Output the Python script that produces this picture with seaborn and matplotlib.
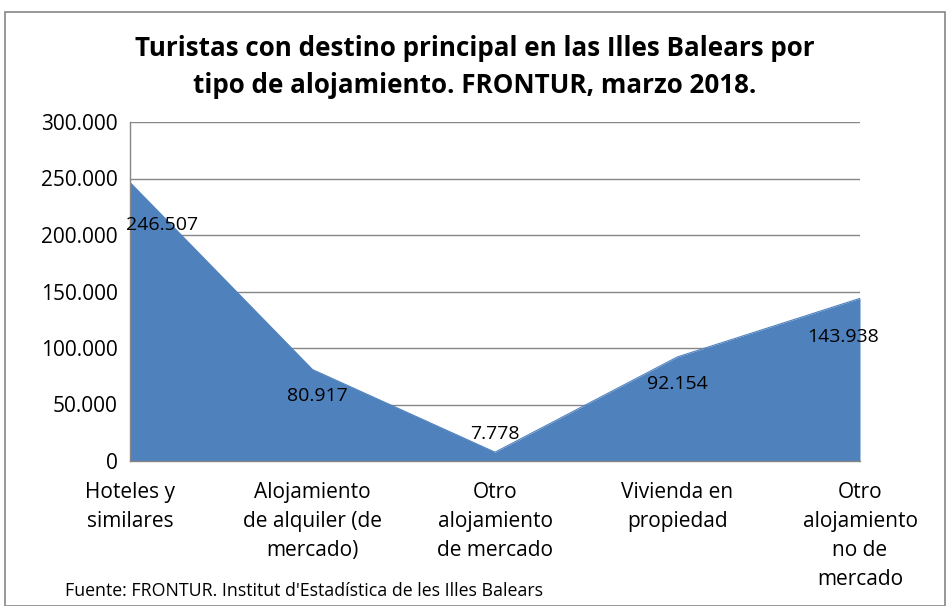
import matplotlib
matplotlib.use("Agg")
import matplotlib.pyplot as plt
import seaborn as sns
import pandas as pd
from matplotlib.patches import Rectangle

categories = ["Hoteles y\nsimilares", "Alojamiento\nde alquiler (de\nmercado)",
              "Otro\nalojamiento\nde mercado", "Vivienda en\npropiedad",
              "Otro\nalojamiento\nno de\nmercado"]
values = [246507, 80917, 7778, 92154, 143938]
value_labels = ["246.507", "80.917", "7.778", "92.154", "143.938"]
yticks = [0, 50000, 100000, 150000, 200000, 250000, 300000]
ytick_labels = ["0", "50.000", "100.000", "150.000", "200.000", "250.000", "300.000"]

sns.set_style("white")
plt.rcParams['font.family'] = ['Open Sans', 'DejaVu Sans']
plt.rcParams['text.color'] = 'black'
plt.rcParams['xtick.color'] = 'black'
plt.rcParams['ytick.color'] = 'black'

df = pd.DataFrame({"x": range(len(values)), "y": values})

fig = plt.figure(figsize=(9.46, 6.06), dpi=100)
ax = fig.add_axes([130/946, 1-461/606, 730/946, 339/606])

color = "#4F81BD"
ax.fill_between(df["x"], 0, df["y"], color=color, linewidth=0, zorder=2)
sns.lineplot(data=df, x="x", y="y", ax=ax, color=color, linewidth=0.8, zorder=3)

ax.set_xlim(0, len(values) - 1)
ax.set_ylim(0, 300000)
ax.set_yticks(yticks)
ax.set_yticklabels(ytick_labels, fontsize=15)
ax.set_xticks(range(len(values)))
ax.set_xticklabels(categories, fontsize=15, linespacing=1.5, va="top")
ax.set_xlabel("")
ax.set_ylabel("")
ax.grid(axis="y", color="#868686", linewidth=1, zorder=1)
ax.set_axisbelow(True)
for s in ["top", "right"]:
    ax.spines[s].set_visible(False)
for s in ["left", "bottom"]:
    ax.spines[s].set_color("#868686")
    ax.spines[s].set_linewidth(1)
    ax.spines[s].set_zorder(4)
ax.tick_params(axis="both", direction="out", length=6, color="#868686", width=1,
               labelcolor="black")
ax.tick_params(axis="x", pad=9)
ax.tick_params(axis="y", pad=3)

offsets = [(32, -43), (5, -26), (0, 18), (0, -27), (-17, -39)]
for i, (v, lab) in enumerate(zip(values, value_labels)):
    dx, dy = offsets[i]
    ax.annotate(lab, xy=(i, v), xytext=(dx * 0.72, dy * 0.72), textcoords="offset points",
                ha="center", va="center", fontsize=14, color="black", zorder=5,
                annotation_clip=False)

fig.text(475/946, 1-67/606, "Turistas con destino principal en las Illes Balears por\ntipo de alojamiento. FRONTUR, marzo 2018.",
         ha="center", va="center", fontsize=18.75, fontweight="bold", linespacing=1.5)
fig.text(65/946, 1-591/606, "Fuente: FRONTUR. Institut d'Estadística de les Illes Balears",
         ha="left", va="center", fontsize=12.8)

fig.patches.append(Rectangle((5/946, 0.5/606), 940/946, 594/606, transform=fig.transFigure,
                             fill=False, edgecolor="#868686", linewidth=1.2))

fig.savefig("out.png", dpi=100)
